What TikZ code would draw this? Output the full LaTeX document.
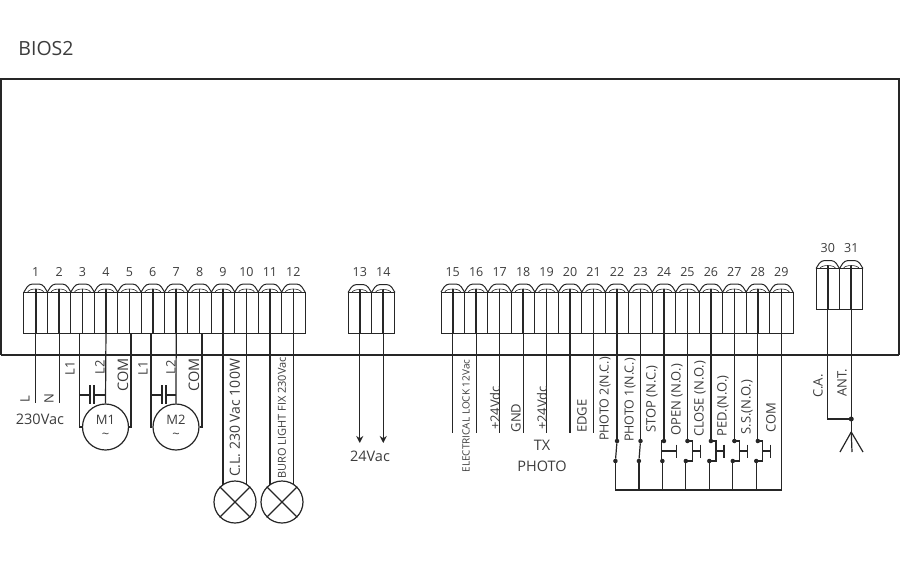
\documentclass[tikz,border=0pt]{standalone}
\usepackage{fontspec}
\usepackage{xcolor}
\setmainfont{Open Sans}
\usetikzlibrary{positioning}
\usetikzlibrary{arrows.meta}
\definecolor{ink}{HTML}{262626}
\definecolor{txt}{HTML}{3C3C3C}
\tikzset{
	term/.style={draw=ink, line width=1pt, rectangle, inner sep=0, outer sep=0, minimum width=23.45pt, minimum height=41pt},
	num/.style={text=txt, font=\fontsize{12.5}{13}\selectfont, inner sep=0},
	wire/.style={draw=ink, line width=1.2pt},
	lab/.style={text=txt, rotate=90, inner sep=0, font=\fontsize{13}{14}\selectfont},
	sm/.style={lab, font=\fontsize{11}{12}\selectfont},
	txtlab/.style={text=txt, inner sep=0, font=\fontsize{14.5}{15}\selectfont},
	dot/.style={circle, fill=ink, inner sep=0, minimum size=4.5pt},
	ring/.style={circle, draw=ink, line width=1.2pt, inner sep=0, minimum size=46pt},
	mot/.style={text=txt, inner sep=0, text height=9pt, text depth=0pt, font=\fontsize{13}{13}\selectfont},
	lamp/.style={circle, draw=ink, line width=1.2pt, inner sep=0, minimum size=42pt},
	tip/.style={wire, -{Stealth[length=7pt,width=7pt]}},
}
\newcommand{\dome}[1]{
	\draw[draw=ink, line width=1pt, rounded corners=3.5pt] (#1.north west) -- ++(5,-8) -- ++(13.5,0) -- (#1.north east);
	\draw[draw=ink, line width=0.6pt] ([xshift=-8pt]#1.north) .. controls +(2,-4) and +(-2,-4) .. ([xshift=8pt]#1.north);
	\draw[draw=ink, line width=1.6pt] ([yshift=3pt]#1.north) -- (#1.south);
}
\begin{document}
\begin{tikzpicture}[x=1pt, y=-1pt]
	\useasboundingbox (0,0) rectangle (900,563);

	\node[text=txt, inner sep=0, font=\fontsize{19.5}{20}\selectfont] (title) at (46,49) {BIOS2};
	\draw[draw=ink, line width=1.5pt] (1,355) -- (1,79) -- (899,79) -- (899,355);
	\draw[draw=ink, line width=1.2pt] (1,355) -- (899,355);

	% terminals
	\foreach \n in {1,...,12}
		\node[term] (t\n) at ({24+23.42*(\n-0.5)},312.5) {};
	\foreach \n in {13,14}
		\node[term] (t\n) at ({348+23.5*(\n-12.5)},313) {};
	\foreach \n in {15,...,29}
		\node[term] (t\n) at ({441+23.47*(\n-14.5)},312.5) {};
	\foreach \n in {30,31}
		\node[term] (t\n) at ({816+23.5*(\n-29.5)},289) {};
	\foreach \n in {1,...,31} {
		\dome{t\n}
		\node[num, above=15.5pt of t\n] (n\n) {\n};
	}

	% mains
	\coordinate (e1) at (t1.south |- 0,403);
	\coordinate (e2) at (t2.south |- 0,403);
	\draw[wire] (t1.south) -- (e1);
	\draw[wire] (t2.south) -- (e2);
	\node[lab] (lL) at (25,399) {L};
	\node[lab] (lN) at (49,399) {N};
	\node[txtlab] (mains) at (40,419) {230Vac};

	% motors
	\node[ring] (m1) at (105.5,427) {};
	\node[ring] (m2) at (176,427) {};
	\node[mot] (m1t) at (105.5,420) {M1};
	\node[mot] (m2t) at (176,420) {M2};
	\node[mot] (m1s) at (105.5,434) {\textasciitilde};
	\node[mot] (m2s) at (176,434) {\textasciitilde};
	\draw[wire] ([xshift=-3.4pt]t3.south) |- (m1.west);
	\draw[wire] (t4.south) -- (m1.north);
	\draw[wire] ([xshift=1.7pt]t5.south) |- (m1.east);
	\draw[wire] ([xshift=-1.8pt]t6.south) |- (m2.west);
	\draw[wire] (t7.south) -- (m2.north);
	\draw[wire] ([xshift=2.4pt]t8.south) |- (m2.east);

	% capacitors
	\draw[wire] (79,395) -- (90,395) (90,385) -- (90,404) (94,385) -- (94,404) (94,395) -- (105.5,395);
	\draw[wire] (151,395) -- (162,395) (162,385) -- (162,404) (166,385) -- (166,404) (166,395) -- (176,395);

	\node[lab] (l3) at (70,368) {L1};
	\node[lab] (l4) at (100,367) {L2};
	\node[lab, font=\fontsize{14.5}{15}\selectfont] (l5) at (123,375) {COM};
	\node[lab] (l6) at (143,368) {L1};
	\node[lab] (l7) at (171,367) {L2};
	\node[lab, font=\fontsize{14.5}{15}\selectfont] (l8) at (194,375) {COM};

	% lamps
	\node[lamp] (lamp1) at (235,502) {};
	\node[lamp] (lamp2) at (282,502) {};
	\foreach \l in {lamp1,lamp2} {
		\draw[wire] (\l.45) -- (\l.225);
		\draw[wire] (\l.135) -- (\l.315);
	}
	\draw[wire] (t9.south) -- (t9.south |- 0,485);
	\draw[wire] (t10.south) -- (t10.south |- 0,485);
	\draw[wire] (t11.south) -- (t11.south |- 0,485);
	\draw[wire] (t12.south) -- (t12.south |- 0,485);
	\node[lab, font=\fontsize{14}{15}\selectfont] (l9) at (235,418) {C.L. 230 Vac 100W};
	\node[sm] (l11) at (282,418) {BURO LIGHT FIX 230Vac};

	% 24 Vac
	\draw[tip] (t13.south) -- (t13.south |- 0,443);
	\draw[tip] (t14.south) -- (t14.south |- 0,443);
	\node[txtlab] (ac) at (370,456) {24Vac};

	% inputs
	\foreach \n in {15,...,21}
		\draw[wire] (t\n.south) -- (t\n.south |- 0,433);
	\node[sm, font=\fontsize{10}{11}\selectfont] (l15) at (466,416) {ELECTRICAL LOCK 12Vac};
	\node[lab] (l16) at (495,408) {+24Vdc};
	\node[lab] (l17) at (516,418) {GND};
	\node[lab] (l18) at (542,408) {+24Vdc};
	\node[lab] (l20) at (582,416) {EDGE};
	\node[lab, font=\fontsize{12.5}{13}\selectfont] (l21) at (605,399) {PHOTO 2(N.C.)};
	\node[txtlab] (tx) at (542,445) {TX};
	\node[txtlab] (photo) at (542,466) {PHOTO};

	% contacts
	\coordinate (bus) at (0,490);
	\foreach \n in {22,...,28} {
		\node[dot] (a\n) at (t\n.south |- 0,441) {};
		\node[dot] (b\n) at ([xshift=-1.6pt]t\n.south |- 0,461) {};
		\draw[wire] (t\n.south) -- (a\n);
		\draw[wire] (b\n) -- (b\n |- bus);
	}
	\foreach \n in {22,23}
		\draw[wire] (a\n) -- (b\n);
	\draw[wire] (a24.center) -- ++(-2.5,0) -- ++(0,20) -- (b24.center);
	\draw[wire] ([xshift=-2.5pt,yshift=-10pt]a24.center) -- ++(15,0) ++(0,-6.5) -- ++(0,13);
	\foreach \n in {25,...,28} {
		\draw[wire] (a\n.center) -- ++(5,0) -- ++(0,20) -- (b\n.center);
		\draw[wire] ([xshift=5pt,yshift=-10pt]a\n.center) -- ++(8,0) ++(0,-6.5) -- ++(0,13);
	}
	\draw[wire] (t29.south) |- (b22 |- bus);
	\node[lab, font=\fontsize{12.5}{13}\selectfont] (l22) at (630,400) {PHOTO 1(N.C.)};
	\node[lab] (l23) at (652,399) {STOP (N.C.)};
	\node[lab] (l24) at (677,400) {OPEN (N.O.)};
	\node[lab] (l25) at (700,399) {CLOSE (N.O.)};
	\node[lab] (l26) at (723,406) {PED.(N.O.)};
	\node[lab] (l27) at (747,407) {S.S.(N.O.)};
	\node[lab] (l28) at (771,418) {COM};

	% antenna
	\node[dot, minimum size=5pt] (ant) at (t31.south |- 0,419) {};
	\coordinate (mast) at (t31.south |- 0,432);
	\draw[wire] (t31.south) -- (mast);
	\draw[wire] (t30.south) |- (ant);
	\draw[wire] (mast) -- (840,452);
	\draw[wire] (mast) -- (852,452);
	\draw[wire] (mast) -- (863,452);
	\node[lab] (l30) at (818,386) {C.A.};
	\node[lab] (l31) at (842,383) {ANT.};
\end{tikzpicture}
\end{document}
